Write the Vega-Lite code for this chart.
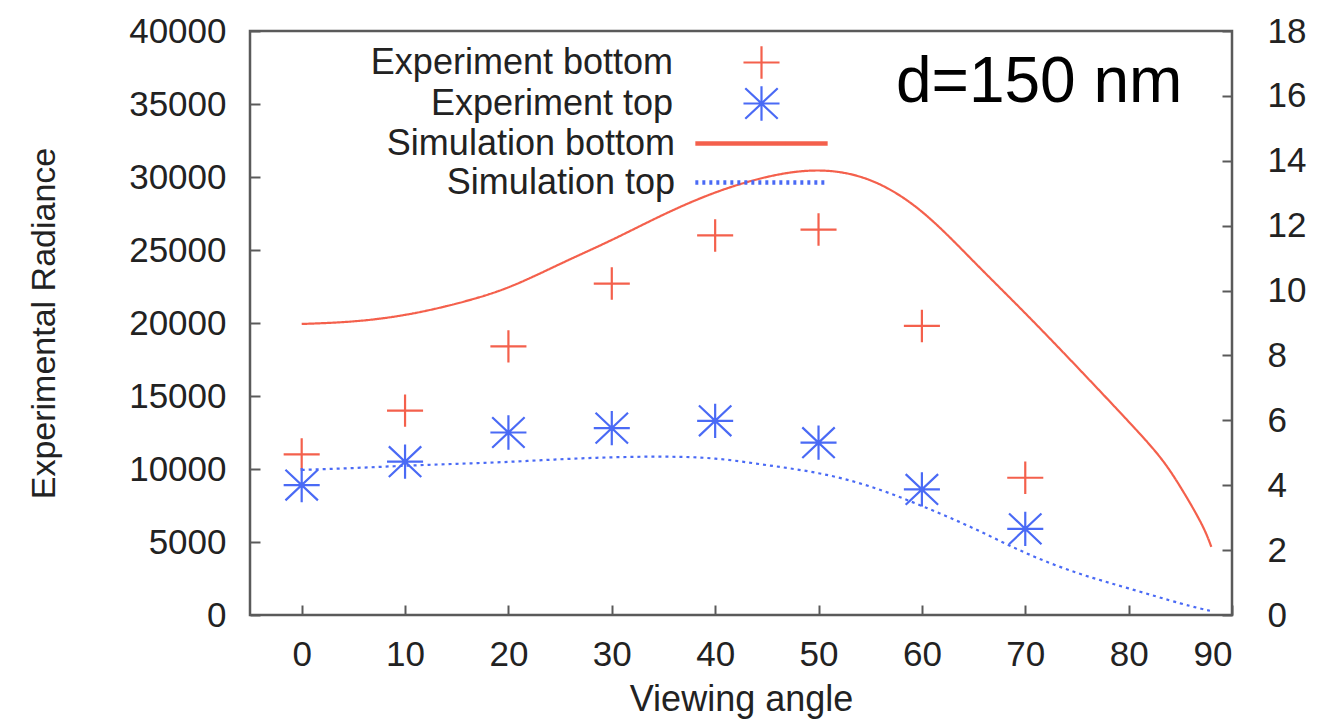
{
  "$schema": "https://vega.github.io/schema/vega-lite/v6.json",
  "width": 982,
  "height": 584,
  "autosize": {"type": "none"},
  "padding": {"left": 250, "top": 31, "right": 99, "bottom": 104},
  "background": "white",
  "config": {
    "font": "Liberation Sans",
    "view": {"stroke": "#5a5a5a", "strokeWidth": 2.5},
    "axis": {
      "domain": false,
      "grid": false,
      "tickColor": "#5a5a5a",
      "tickWidth": 2,
      "tickSize": -10,
      "labelFont": "Liberation Sans",
      "labelFontSize": 35,
      "labelColor": "#222222",
      "titleFont": "Liberation Sans",
      "titleFontWeight": "normal",
      "titleColor": "#222222"
    },
    "legend": {
      "labelFont": "Liberation Sans",
      "labelFontSize": 36,
      "labelColor": "#222222",
      "labelLimit": 0,
      "padding": 0
    }
  },
  "datasets": {
    "measured": [
      {"angle": 0, "radiance": 11000, "series": "Experiment bottom"},
      {"angle": 10, "radiance": 14000, "series": "Experiment bottom"},
      {"angle": 20, "radiance": 18400, "series": "Experiment bottom"},
      {"angle": 30, "radiance": 22700, "series": "Experiment bottom"},
      {"angle": 40, "radiance": 26000, "series": "Experiment bottom"},
      {"angle": 50, "radiance": 26400, "series": "Experiment bottom"},
      {"angle": 60, "radiance": 19800, "series": "Experiment bottom"},
      {"angle": 70, "radiance": 9400, "series": "Experiment bottom"},
      {"angle": 0, "radiance": 8900, "series": "Experiment top"},
      {"angle": 10, "radiance": 10500, "series": "Experiment top"},
      {"angle": 20, "radiance": 12500, "series": "Experiment top"},
      {"angle": 30, "radiance": 12800, "series": "Experiment top"},
      {"angle": 40, "radiance": 13300, "series": "Experiment top"},
      {"angle": 50, "radiance": 11800, "series": "Experiment top"},
      {"angle": 60, "radiance": 8600, "series": "Experiment top"},
      {"angle": 70, "radiance": 5900, "series": "Experiment top"}
    ],
    "simulated": [
      {"angle": 0, "value": 8.97, "model": "Simulation bottom"},
      {"angle": 5, "value": 9.05, "model": "Simulation bottom"},
      {"angle": 10, "value": 9.25, "model": "Simulation bottom"},
      {"angle": 15, "value": 9.6, "model": "Simulation bottom"},
      {"angle": 20, "value": 10.1, "model": "Simulation bottom"},
      {"angle": 25, "value": 10.82, "model": "Simulation bottom"},
      {"angle": 30, "value": 11.56, "model": "Simulation bottom"},
      {"angle": 35, "value": 12.34, "model": "Simulation bottom"},
      {"angle": 40, "value": 13.02, "model": "Simulation bottom"},
      {"angle": 45, "value": 13.5, "model": "Simulation bottom"},
      {"angle": 50, "value": 13.7, "model": "Simulation bottom"},
      {"angle": 55, "value": 13.4, "model": "Simulation bottom"},
      {"angle": 60, "value": 12.43, "model": "Simulation bottom"},
      {"angle": 65, "value": 10.9, "model": "Simulation bottom"},
      {"angle": 70, "value": 9.3, "model": "Simulation bottom"},
      {"angle": 75, "value": 7.65, "model": "Simulation bottom"},
      {"angle": 80, "value": 5.96, "model": "Simulation bottom"},
      {"angle": 83, "value": 4.88, "model": "Simulation bottom"},
      {"angle": 85, "value": 3.95, "model": "Simulation bottom"},
      {"angle": 87, "value": 2.84, "model": "Simulation bottom"},
      {"angle": 88, "value": 2.1, "model": "Simulation bottom"},
      {"angle": 0, "value": 4.47, "model": "Simulation top"},
      {"angle": 5, "value": 4.53, "model": "Simulation top"},
      {"angle": 10, "value": 4.6, "model": "Simulation top"},
      {"angle": 15, "value": 4.66, "model": "Simulation top"},
      {"angle": 20, "value": 4.72, "model": "Simulation top"},
      {"angle": 25, "value": 4.8, "model": "Simulation top"},
      {"angle": 30, "value": 4.86, "model": "Simulation top"},
      {"angle": 35, "value": 4.88, "model": "Simulation top"},
      {"angle": 40, "value": 4.82, "model": "Simulation top"},
      {"angle": 45, "value": 4.62, "model": "Simulation top"},
      {"angle": 50, "value": 4.37, "model": "Simulation top"},
      {"angle": 55, "value": 3.96, "model": "Simulation top"},
      {"angle": 60, "value": 3.36, "model": "Simulation top"},
      {"angle": 65, "value": 2.67, "model": "Simulation top"},
      {"angle": 70, "value": 1.92, "model": "Simulation top"},
      {"angle": 75, "value": 1.3, "model": "Simulation top"},
      {"angle": 80, "value": 0.82, "model": "Simulation top"},
      {"angle": 85, "value": 0.36, "model": "Simulation top"},
      {"angle": 88, "value": 0.12, "model": "Simulation top"}
    ]
  },
  "layer": [
    {
      "data": {"name": "measured"},
      "mark": {"type": "point", "filled": false, "opacity": 1, "strokeWidth": 2.2, "size": 1300},
      "encoding": {
        "x": {
          "field": "angle",
          "type": "quantitative",
          "scale": {"domain": [-5, 90], "nice": false, "zero": false},
          "axis": {
            "values": [0, 10, 20, 30, 40, 50, 60, 70, 80, 90],
            "labelPadding": 32,
            "title": "Viewing angle",
            "titleFontSize": 36,
            "titlePadding": 10
          }
        },
        "y": {
          "field": "radiance",
          "type": "quantitative",
          "scale": {"domain": [0, 40000], "nice": false},
          "axis": {
            "orient": "left",
            "values": [0, 5000, 10000, 15000, 20000, 25000, 30000, 35000, 40000],
            "format": "d",
            "labelPadding": 34,
            "title": "Experimental Radiance",
            "titleFontSize": 34,
            "titleX": -206,
            "titleY": 292,
            "titleAngle": -90,
            "titleBaseline": "middle",
            "titleAlign": "center"
          }
        },
        "shape": {
          "field": "series",
          "type": "nominal",
          "scale": {
            "domain": ["Experiment bottom", "Experiment top"],
            "range": [
              "M-1,0L1,0M0,-0.9L0,0.9",
              "M-1,0L1,0M0,-0.95L0,0.95M-0.9,-0.85L0.9,0.85M-0.9,0.85L0.9,-0.85"
            ]
          },
          "legend": {
            "orient": "none",
            "legendX": 492,
            "legendY": 12,
            "title": null,
            "labelAlign": "right",
            "labelOffset": -108,
            "symbolSize": 1300,
            "symbolStrokeWidth": 2.2,
            "rowPadding": -4
          }
        },
        "color": {
          "field": "series",
          "type": "nominal",
          "scale": {
            "domain": ["Experiment bottom", "Experiment top"],
            "range": ["#f4604c", "#4a6af5"]
          },
          "legend": {
            "orient": "none",
            "legendX": 492,
            "legendY": 12,
            "title": null,
            "labelAlign": "right",
            "labelOffset": -108,
            "symbolSize": 1300,
            "symbolStrokeWidth": 2.2,
            "rowPadding": -4
          }
        }
      }
    },
    {
      "data": {"values": [{"label": "d=150 nm"}]},
      "mark": {"type": "text", "align": "right", "baseline": "alphabetic", "fontSize": 64, "font": "Liberation Sans", "color": "#000000"},
      "encoding": {
        "x": {"datum": 85.2, "type": "quantitative"},
        "y": {"datum": 35150, "type": "quantitative", "scale": {"domain": [0, 40000], "nice": false}, "axis": null},
        "text": {"field": "label", "type": "nominal"}
      }
    },
    {
      "data": {"name": "simulated"},
      "mark": {"type": "line", "interpolate": "natural", "strokeWidth": 2.2},
      "encoding": {
        "x": {"field": "angle", "type": "quantitative"},
        "y": {
          "field": "value",
          "type": "quantitative",
          "scale": {"domain": [0, 18], "nice": false},
          "axis": {
            "orient": "right",
            "values": [0, 2, 4, 6, 8, 10, 12, 14, 16, 18],
            "labelPadding": 45,
            "title": null
          }
        },
        "stroke": {
          "field": "model",
          "type": "nominal",
          "scale": {
            "domain": ["Simulation bottom", "Simulation top"],
            "range": ["#f4604c", "#4a6af5"]
          },
          "legend": {
            "orient": "none",
            "legendX": 491,
            "legendY": 92,
            "title": null,
            "labelAlign": "right",
            "labelOffset": -107,
            "symbolType": "M-3.67,0L3.67,0",
            "symbolSize": 1300,
            "symbolStrokeWidth": 4.5,
            "rowPadding": -5
          }
        },
        "strokeDash": {
          "field": "model",
          "type": "nominal",
          "scale": {
            "domain": ["Simulation bottom", "Simulation top"],
            "range": [[1, 0], [3, 4]]
          },
          "legend": {
            "orient": "none",
            "legendX": 491,
            "legendY": 92,
            "title": null,
            "labelAlign": "right",
            "labelOffset": -107,
            "symbolType": "M-3.67,0L3.67,0",
            "symbolSize": 1300,
            "symbolStrokeWidth": 4.5,
            "rowPadding": -5
          }
        }
      }
    }
  ],
  "resolve": {
    "scale": {"y": "independent"},
    "axis": {"y": "independent"}
  }
}
